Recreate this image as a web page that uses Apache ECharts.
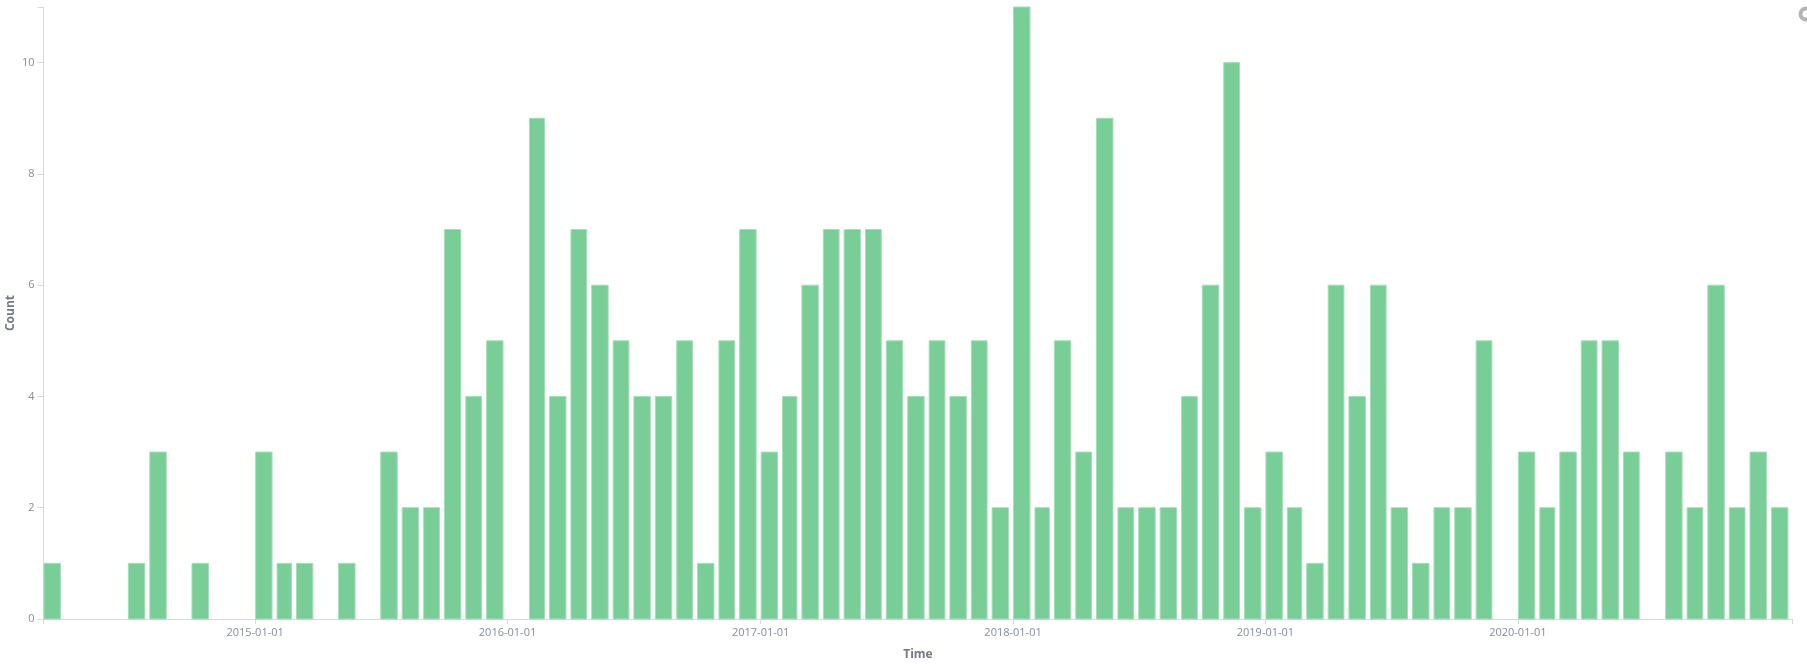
<!DOCTYPE html>
<html>
<head>
<meta charset="utf-8">
<style>html,body{margin:0;padding:0;background:#fff}#c{width:1807px;height:664px}</style>
<script src="https://cdn.jsdelivr.net/npm/echarts@6/dist/echarts.min.js"></script>
</head>
<body>
<div id="c"></div>
<script>
const firstMonth = [2014, 2]; // March 2014 (0-based month)
const counts = [
  1,0,0,0,1,3,0,1,0,0,
  3,1,1,0,1,0,3,2,2,7,4,5,
  0,9,4,7,6,5,4,4,5,1,5,7,
  3,4,6,7,7,7,5,4,5,4,5,2,
  11,2,5,3,9,2,2,2,4,6,10,2,
  3,2,1,6,4,6,2,1,2,2,5,0,
  3,2,3,5,5,3,0,3,2,6,2,3,
  2
];
const yearTicks = ['2015-01-01','2016-01-01','2017-01-01','2018-01-01','2019-01-01','2020-01-01'];
const axisStart = '2014-03-01';
const axisEnd = '2021-02-01';
const yTicks = [0,2,4,6,8,10];

const toTime = s => { const p = s.split('-').map(Number); return Date.UTC(p[0], p[1]-1, p[2]); };
const rows = counts.map((v, i) => [
  Date.UTC(firstMonth[0], firstMonth[1] + i, 1),
  v,
  Date.UTC(firstMonth[0], firstMonth[1] + i + 1, 1)
]);
const labelColor = '#858e9a', titleColor = '#727b87', lineColor = '#d9d9d9';
const font = '"Open Sans", sans-serif';

const chart = echarts.init(document.getElementById('c'), null, {renderer: 'canvas'});
chart.setOption({
  animation: false,
  backgroundColor: '#fff',
  grid: {left: 43.5, right: 14.6, top: 7, bottom: 45, containLabel: false, outerBoundsMode: 'none'},
  xAxis: {
    type: 'value',
    scale: true,
    min: toTime(axisStart),
    max: toTime(axisEnd),
    name: 'Time',
    nameLocation: 'middle',
    nameGap: 30,
    nameMoveOverlap: false,
    nameTextStyle: {color: titleColor, fontFamily: font, fontWeight: 'bold', fontSize: 12},
    splitLine: {show: false},
    axisLine: {onZero: false, lineStyle: {color: lineColor, width: 1}},
    axisTick: {length: 5, lineStyle: {color: lineColor},
      customValues: [toTime(axisStart)].concat(yearTicks.map(toTime), [toTime(axisEnd)])},
    axisLabel: {
      color: labelColor, fontFamily: font, fontSize: 11, margin: 8, hideOverlap: false,
      customValues: yearTicks.map(toTime),
      formatter: v => new Date(v).toISOString().slice(0, 10)
    }
  },
  yAxis: {
    type: 'value',
    min: 0, max: 11, interval: 2,
    name: 'Count',
    nameLocation: 'middle',
    nameGap: 27,
    nameMoveOverlap: false,
    nameTextStyle: {color: titleColor, fontFamily: font, fontWeight: 'bold', fontSize: 12},
    splitLine: {show: false},
    axisLine: {show: true, onZero: false, lineStyle: {color: lineColor, width: 1}},
    axisTick: {show: true, length: 6, lineStyle: {color: lineColor}, customValues: yTicks.concat([11])},
    axisLabel: {color: labelColor, fontFamily: font, fontSize: 11, margin: 9, customValues: yTicks}
  },
  series: [{
    type: 'custom',
    clip: false,
    data: rows,
    encode: {x: 0, y: 1},
    renderItem: (params, api) => {
      if (!api.value(1)) return null;
      const a = api.coord([api.value(0), api.value(1)]);
      const b = api.coord([api.value(2), 0]);
      return {
        type: 'rect',
        shape: {x: a[0] + 0.5, y: a[1], width: b[0] - a[0] - 5, height: b[1] - a[1]},
        style: {fill: '#79cd97', stroke: '#a3dfb8', lineWidth: 1}
      };
    }
  }],
  graphic: [{
    type: 'ring', silent: true,
    shape: {cx: 1806, cy: 14, r: 7.5, r0: 3.5},
    style: {fill: '#b5b5b5'}
  }]
});
</script>
</body>
</html>
